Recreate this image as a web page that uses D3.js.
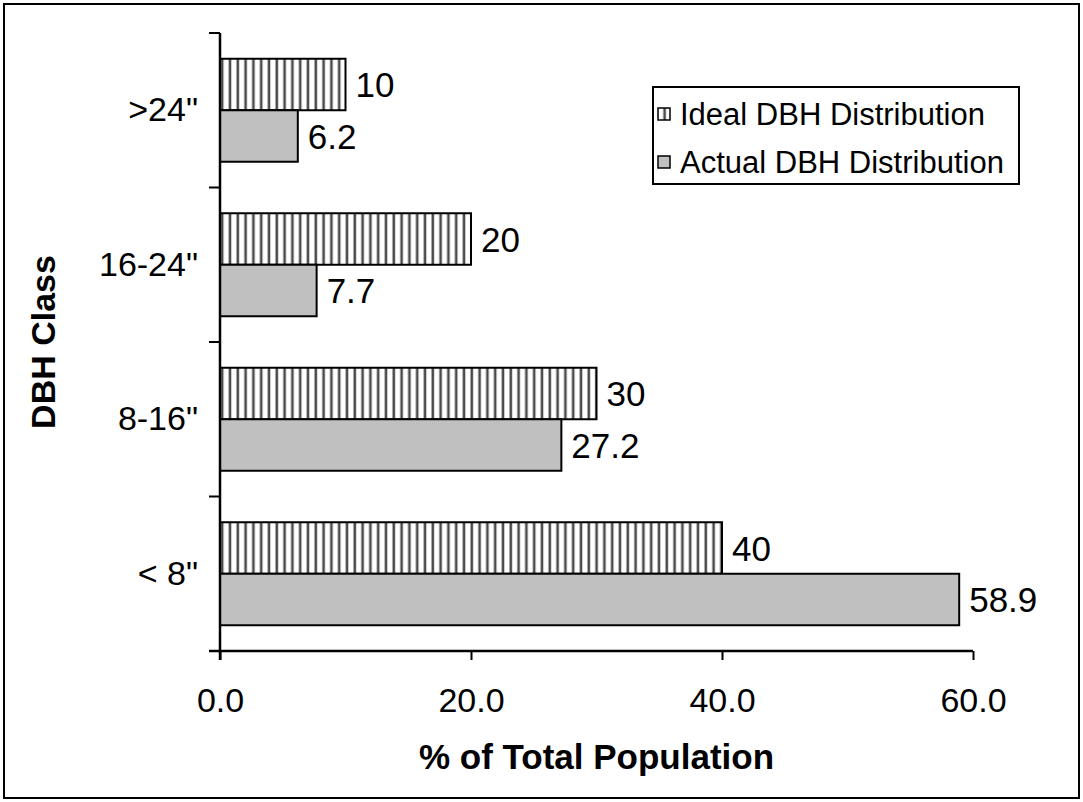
<!DOCTYPE html>
<html>
<head>
<meta charset="utf-8">
<script src="https://cdn.jsdelivr.net/npm/d3@7"></script>
<style>
  html, body { margin: 0; padding: 0; background: #fff; }
  svg text { font-family: "Liberation Sans", Arial, sans-serif; fill: #000; }
</style>
</head>
<body>
<svg id="chart" width="1083" height="802"></svg>
<script>
// DBH classes, listed from top of the chart to bottom
const categories = ['>24"', '16-24"', '8-16"', '< 8"'];
const seriesNames = ["Ideal DBH Distribution", "Actual DBH Distribution"];
const idealValues = [10, 20, 30, 40];
const actualValues = [6.2, 7.7, 27.2, 58.9];
const xTicks = [0, 20, 40, 60];

const svg = d3.select("#chart");
const W = 1083, H = 802;
const FONT = "Liberation Sans, Arial, sans-serif";

// vertical hatch used for the ideal series
const defs = svg.append("defs");
const pat = defs.append("pattern")
  .attr("id", "vhatch")
  .attr("patternUnits", "userSpaceOnUse")
  .attr("width", 7.8).attr("height", 10);
pat.append("rect").attr("width", 7.8).attr("height", 10).attr("fill", "#fff");
pat.append("rect").attr("x", 2.5).attr("width", 2.6).attr("height", 10).attr("fill", "#4a4a4a");

// outer frame
svg.append("rect")
  .attr("x", 4).attr("y", 4).attr("width", W - 8).attr("height", H - 8)
  .attr("fill", "none").attr("stroke", "#000").attr("stroke-width", 2);

const plot = { left: 220, top: 33, bottom: 651, right: 973 };

const x = d3.scaleLinear().domain([0, 60]).range([plot.left, plot.right]);
const y = d3.scaleBand().domain(categories).range([plot.top, plot.bottom]);
const inner = d3.scaleBand().domain(seriesNames).range([0, y.bandwidth()])
  .paddingInner(0).paddingOuter(0.5);

const rows = categories.map((c, i) => ({ cat: c, values: [idealValues[i], actualValues[i]] }));

const groups = svg.append("g").selectAll("g").data(rows).join("g")
  .attr("transform", d => `translate(0,${y(d.cat)})`);

groups.selectAll("rect").data(d => d.values.map((v, j) => ({ v, s: seriesNames[j] })))
  .join("rect")
  .attr("x", x(0))
  .attr("y", d => inner(d.s))
  .attr("width", d => x(d.v) - x(0))
  .attr("height", inner.bandwidth())
  .attr("fill", d => d.s === seriesNames[0] ? "url(#vhatch)" : "#c0c0c0")
  .attr("stroke", "#000").attr("stroke-width", 2);

groups.selectAll("text.val").data(d => d.values.map((v, j) => ({ v, s: seriesNames[j] })))
  .join("text")
  .attr("class", "val")
  .attr("x", d => x(d.v) + 10)
  .attr("y", d => inner(d.s) + inner.bandwidth() / 2)
  .attr("dy", "0.36em")
  .attr("font-size", 35)
  .text(d => d.v);

// x axis
const xAxis = d3.axisBottom(x).tickValues(xTicks).tickFormat(d3.format(".1f")).tickSize(9).tickSizeOuter(0);
const gx = svg.append("g").attr("transform", `translate(0,${plot.bottom})`).call(xAxis);
gx.select(".domain").attr("stroke-width", 2.5).attr("d", `M${plot.left - 11},0H${x(60)}`);
gx.selectAll(".tick line").attr("stroke-width", 2);
gx.selectAll(".tick text").attr("font-size", 34).attr("font-family", FONT).attr("dy", "1.45em");

// y axis with ticks on the category boundaries
const yAxis = d3.axisLeft(y).tickSize(0).tickPadding(22);
const gy = svg.append("g").attr("transform", `translate(${plot.left},0)`).call(yAxis);
gy.select(".domain").attr("stroke-width", 2.5).attr("d", `M0,${plot.top}V${plot.bottom + 9}`);
gy.selectAll(".tick text").attr("font-size", 34).attr("font-family", FONT);
const bounds = categories.map(c => y(c)).concat([plot.bottom]);
gy.selectAll("line.bound").data(bounds).join("line").attr("class", "bound")
  .attr("x1", -11).attr("x2", 0).attr("y1", d => d).attr("y2", d => d)
  .attr("stroke", "#000").attr("stroke-width", 2);

// axis titles
svg.append("text").attr("x", (plot.left + plot.right) / 2).attr("y", 769)
  .attr("text-anchor", "middle").attr("font-size", 35).attr("font-weight", "bold")
  .text("% of Total Population");
svg.append("text").attr("transform", `translate(55,${(plot.top + plot.bottom) / 2}) rotate(-90)`)
  .attr("text-anchor", "middle").attr("font-size", 34).attr("font-weight", "bold")
  .text("DBH Class");

// legend
const lg = svg.append("g").attr("transform", "translate(653,87)");
lg.append("rect").attr("width", 366).attr("height", 97)
  .attr("fill", "#fff").attr("stroke", "#000").attr("stroke-width", 2);
const legendFills = ["url(#vhatch)", "#c0c0c0"];
seriesNames.forEach((s, i) => {
  const row = lg.append("g").attr("transform", `translate(0,${27 + i * 48})`);
  row.append("rect").attr("x", 5).attr("y", -6).attr("width", 12).attr("height", 12)
    .attr("fill", legendFills[i]).attr("stroke", "#000").attr("stroke-width", 1.5);
  row.append("text").attr("x", 27).attr("dy", "0.36em").attr("font-size", 31).text(s);
});
</script>
</body>
</html>
